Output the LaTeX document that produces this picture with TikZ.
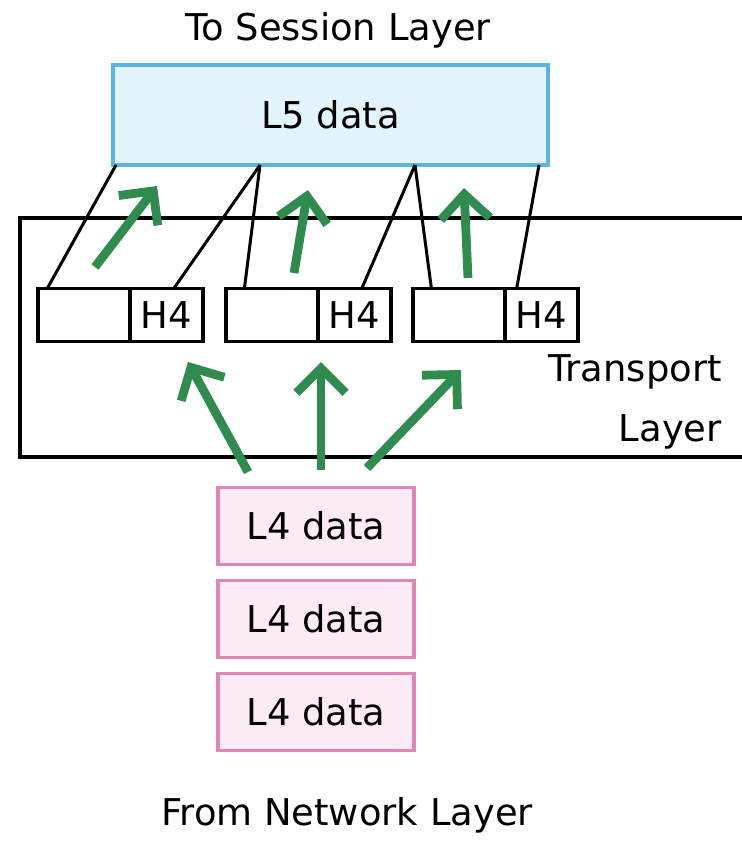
\documentclass[tikz,border=0pt]{standalone}
\usepackage{fontspec}
\setmainfont{DejaVu Sans}
\usepackage{tikz}
\usetikzlibrary{arrows.meta,positioning,calc}
\definecolor{slblue}{HTML}{5BB5E0}
\definecolor{slfill}{HTML}{E4F4FC}
\definecolor{nlpink}{HTML}{E186B6}
\definecolor{nlfill}{HTML}{FCEBF4}
\definecolor{upgreen}{HTML}{2F8C4E}

\begin{document}
\begin{tikzpicture}[
  x=0.02cm, y=-0.02cm,
  font=\fontsize{21}{25}\selectfont,
  box/.style={draw, line width=1.9pt, align=center, inner sep=0pt, outer sep=0pt},
  upper/.style={box, draw=slblue, fill=slfill, minimum width=8.7cm, minimum height=2cm},
  lower/.style={box, draw=nlpink, fill=nlfill, minimum width=3.92cm, minimum height=1.54cm},
  payload/.style={box, line width=2pt, minimum width=1.84cm, minimum height=1.06cm},
  hdr/.style={payload, minimum width=1.46cm},
  seg/.style={line width=1.7pt},
  up/.style={upgreen, line width=5pt, -{Straight Barb[length=14pt, width=28pt, line width=5pt]}},
]
\useasboundingbox (0,0) rectangle (742,842);

% session layer on top
\node (totop) at (338,30) {To Session Layer};
\node[upper] (l5) at (330.5,115) {L5 data};

% transport layer frame, open to the right
\draw[line width=2pt] (742,218) -| (20,457) -- (742,457);
\node[anchor=east] (tr) at (728,372) {Transport};
\node[anchor=east] (tly) at (728,432) {Layer};

% the three segments: payload + H4
\node[payload] (p1) at (84,315) {};
\node[hdr, right=0pt of p1] (h1) {H4};
\node[payload] (p2) at (272,315) {};
\node[hdr, right=0pt of p2] (h2) {H4};
\node[payload] (p3) at (459,315) {};
\node[hdr, right=0pt of p3] (h3) {H4};

% network layer at the bottom
\node[lower] (n1) at (316,526) {L4 data};
\node[lower, below=0.32cm of n1] (n2) {L4 data};
\node[lower, below=0.32cm of n2] (n3) {L4 data};
\node (frombot) at (347,815) {From Network Layer};

% where the segments meet the L5 block
\coordinate (j0) at (116,165);
\coordinate (j1) at (260,165);
\coordinate (j2) at (415,165);
\coordinate (j3) at (539,165);

\draw[seg] ($(p1.north west)!0.1!(p1.north east)$) -- (j0);
\draw[seg] ($(h1.north west)!0.6!(h1.north east)$) -- (j1);
\draw[seg] ($(p2.north west)!0.2!(p2.north east)$) -- (j1);
\draw[seg] ($(h2.north west)!0.6!(h2.north east)$) -- (j2);
\draw[seg] ($(p3.north west)!0.2!(p3.north east)$) -- (j2);
\draw[seg] ($(h3.north west)!0.16!(h3.north east)$) -- (j3);

% green arrows: reassembly (top) and split (bottom)
\coordinate (a1) at (95,267);  \coordinate (b1) at (157,186);
\coordinate (a2) at (294,273); \coordinate (b2) at (308,190);
\coordinate (a3) at (468,278); \coordinate (b3) at (464,188);
\coordinate (c1) at (248,472); \coordinate (d1) at (188,362);
\coordinate (c2) at (321,470); \coordinate (d2) at (321,362);
\coordinate (c3) at (367,468); \coordinate (d3) at (461,370);

\draw[up] (a1) -- (b1);
\draw[up] (a2) -- (b2);
\draw[up] (a3) -- (b3);
\draw[up] (c1) -- (d1);
\draw[up] (c2) -- (d2);
\draw[up] (c3) -- (d3);
\end{tikzpicture}
\end{document}
